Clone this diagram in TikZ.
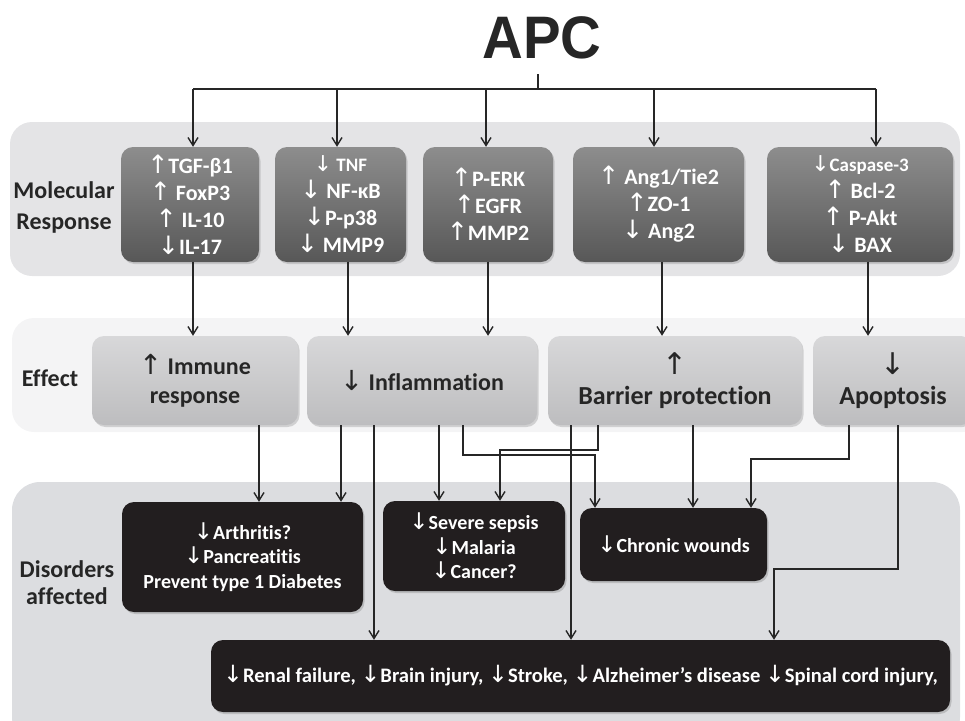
\documentclass[tikz,border=0pt]{standalone}
\usepackage{fontspec}
\setmainfont{Carlito}[Ligatures=NoCommon]
\newfontfamily\apcfont{Liberation Sans}
\newfontfamily\arrowfont{DejaVu Sans}
\usetikzlibrary{arrows.meta}
\usetikzlibrary{positioning}
\usetikzlibrary{shadows}
\definecolor{panelmol}{HTML}{E4E4E6}
\definecolor{paneleff}{HTML}{F4F4F5}
\definecolor{paneldis}{HTML}{DCDDE0}
\definecolor{molgray}{HTML}{676767}
\definecolor{effgray}{HTML}{C7C7C9}
\definecolor{disblack}{HTML}{221E1F}
\definecolor{inkgray}{HTML}{262626}
\newcommand{\upar}{{\arrowfont\mdseries\scalebox{1.15}{↑}}}
\newcommand{\dnar}{{\arrowfont\mdseries\scalebox{1.15}{↓}}}
\tikzset{
  wire/.style = {line width=1.5pt, draw=inkgray},
  arr/.style = {wire, -{Straight Barb[length=8pt,width=10pt,line width=1.4pt]}},
  molbox/.style = {rounded corners=12, inner sep=0, align=center, text=white,
    top color=molgray!75!white, bottom color=molgray!85!black,
    drop shadow={opacity=0.3, shadow xshift=1.5pt, shadow yshift=-2pt},
    font=\fontsize{22}{27}\selectfont\bfseries},
  effbox/.style = {rounded corners=12, inner sep=0, align=center, text=inkgray,
    top color=effgray!70!white, bottom color=effgray!95!black,
    drop shadow={opacity=0.3, shadow xshift=1.5pt, shadow yshift=-2pt},
    font=\fontsize{24}{29}\selectfont\bfseries},
  disbox/.style = {rounded corners=12, inner sep=0, align=center, text=white,
    fill=disblack, drop shadow={opacity=0.35, shadow xshift=1.5pt, shadow yshift=-2pt},
    font=\fontsize{20}{24.5}\selectfont\bfseries},
  rowlabel/.style = {inner sep=0, align=center, text=inkgray,
    font=\fontsize{24}{31}\selectfont\bfseries}
}

\begin{document}
\begin{tikzpicture}[x=1pt, y=-1pt]
  \useasboundingbox (0,0) rectangle (965,720);

  % background bands
  \fill [panelmol, rounded corners=22] (10,122) rectangle (960,276);
  \fill [paneleff, rounded corners=22] (12,318) rectangle (985,432);
  \fill [paneldis, rounded corners=28] (12,482) rectangle (960,745);

  \node [inner sep=0, text=inkgray, xscale=0.94,
    font=\fontsize{60}{60}\apcfont\bfseries] (apc) at (542,38) {APC};

  \node [rowlabel] (lmol) at (64,207) {Molecular\\Response};
  \node [rowlabel] (leff) at (50,378) {Effect};
  \node [rowlabel, font=\fontsize{24}{27}\selectfont\bfseries] (ldis) at (67,583) {Disorders\\affected};

  % molecular response
  \node [molbox, minimum width=138, minimum height=115] (m1) at (190,204.5)
    {\upar TGF-β1\\\upar\ FoxP3\\\upar\ IL-10\\\dnar IL-17};
  \node [molbox, minimum width=131, minimum height=115] (m2) at (340.5,204.5)
    {{\fontsize{19}{27}\selectfont\dnar\ TNF}\\\dnar\ NF-κB\\\dnar P-p38\\\dnar\ MMP9};
  \node [molbox, minimum width=130, minimum height=115] (m3) at (488,204.5)
    {\upar P-ERK\\\upar EGFR\\\upar MMP2};
  \node [molbox, minimum width=171, minimum height=115] (m4) at (658.5,204.5)
    {\upar\ Ang1/Tie2\\\upar ZO-1\\\dnar\ Ang2};
  \node [molbox, minimum width=186, minimum height=115] (m5) at (860,204.5)
    {{\fontsize{19}{27}\selectfont\dnar Caspase-3}\\\upar\ Bcl-2\\\upar\ P-Akt\\\dnar\ BAX};

  % effects
  \node [effbox, minimum width=206, minimum height=89] (e1) at (195,380.5)
    {\upar\ Immune\\response};
  \node [effbox, minimum width=230, minimum height=89] (e2) at (422,380.5)
    {\dnar\ Inflammation};
  \node [effbox, minimum width=254, minimum height=89, font=\fontsize{26}{30}\selectfont\bfseries] (e3) at (675,380.5)
    {\upar\\Barrier protection};
  \node [effbox, minimum width=160, minimum height=89, font=\fontsize{26}{30}\selectfont\bfseries] (e4) at (893,380.5)
    {\dnar\\Apoptosis};

  % disorders
  \node [disbox, minimum width=241, minimum height=110] (d1) at (242.5,557)
    {\dnar Arthritis?\\\dnar Pancreatitis\\Prevent type 1 Diabetes};
  \node [disbox, minimum width=182, minimum height=90] (d2) at (474,546)
    {\dnar Severe sepsis\\\dnar Malaria\\\dnar Cancer?};
  \node [disbox, minimum width=187, minimum height=73] (d3) at (673.5,544.5)
    {\dnar Chronic wounds};
  \node [disbox, minimum width=739, minimum height=72, font=\fontsize{20.6}{24}\selectfont\bfseries] (d4) at (580.5,676)
    {\dnar Renal failure, \dnar Brain injury, \dnar Stroke, \dnar Alzheimer’s disease \dnar Spinal cord injury,};

  % APC to molecular response
  \coordinate (stem) at (538,74);
  \coordinate (bus) at (538,89);
  \draw [wire] (stem) -- (bus);
  \draw [wire] (193,0 |- bus) -- (876,0 |- bus);
  \foreach \x/\m in {193/m1, 337/m2, 486/m3, 654/m4, 876/m5}
    \draw [arr] (\x,0 |- bus) -- (\x,0 |- \m.north);

  % molecular response to effect
  \foreach \x/\m/\e in {193/m1/e1, 348/m2/e2, 488/m3/e2, 662/m4/e3, 868/m5/e4}
    \draw [arr] (\x,0 |- \m.south) -- (\x,0 |- \e.north);

  % effect to disorders
  \foreach \x/\e/\d in {259/e1/d1, 341/e2/d1, 374/e2/d4, 439/e2/d2, 571/e3/d4, 693/e3/d3}
    \draw [arr] (\x,0 |- \e.south) -- (\x,0 |- \d.north);
  \draw [arr] (463,0 |- e2.south) -- (463,455) -| (595,0 |- d3.north);
  \draw [arr] (598,0 |- e3.south) -- (598,450) -| (500,0 |- d2.north);
  \draw [arr] (849,0 |- e4.south) -- (849,459) -| (751,0 |- d3.north);
  \draw [arr] (898,0 |- e4.south) -- (898,569) -| (774,0 |- d4.north);
\end{tikzpicture}
\end{document}
